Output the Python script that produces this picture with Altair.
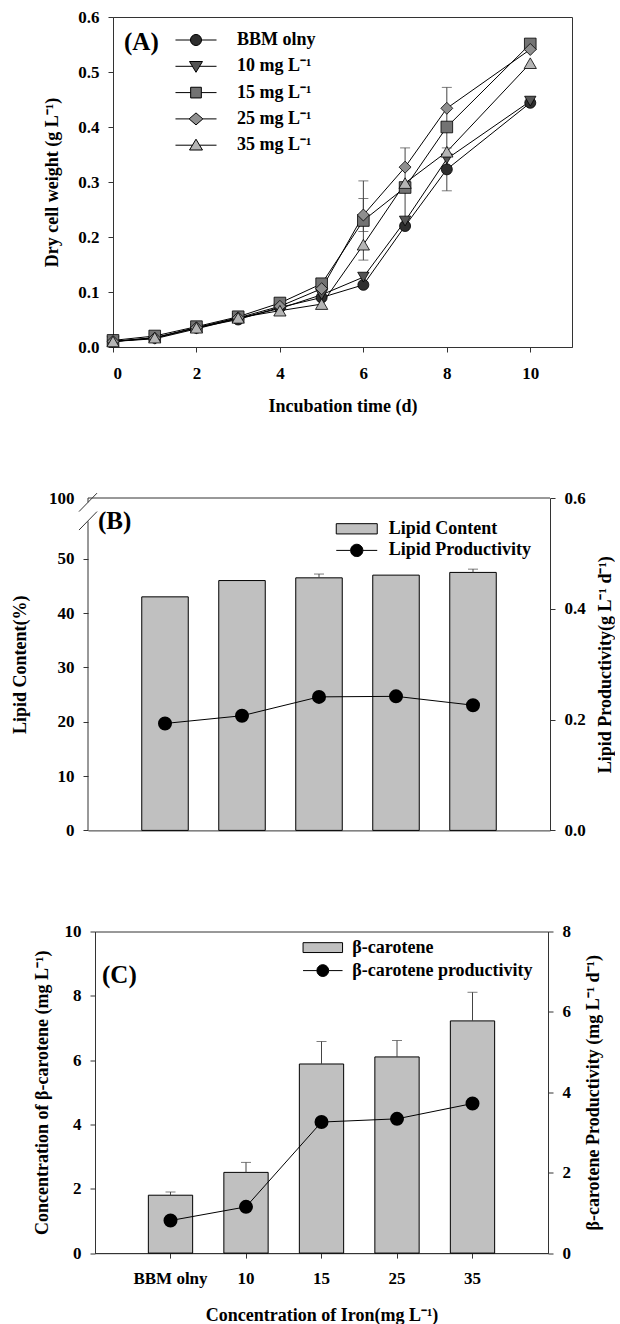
import altair as alt
import pandas as pd

FONT = "Liberation Serif"

# ---------------- Panel A: growth curves ----------------
days = [0, 1, 2, 3, 4, 5, 6, 7, 8, 10]
series_names = ["BBM olny", "10 mg L⁻¹", "15 mg L⁻¹", "25 mg L⁻¹", "35 mg L⁻¹"]
dcw_bbm = [0.010, 0.017, 0.035, 0.050, 0.072, 0.090, 0.113, 0.220, 0.323, 0.444]
dcw_10 = [0.010, 0.015, 0.033, 0.052, 0.070, 0.095, 0.127, 0.229, 0.342, 0.447]
dcw_15 = [0.012, 0.020, 0.037, 0.055, 0.080, 0.115, 0.230, 0.290, 0.400, 0.551]
dcw_25 = [0.010, 0.016, 0.035, 0.053, 0.074, 0.106, 0.240, 0.327, 0.434, 0.541]
dcw_35 = [0.010, 0.017, 0.035, 0.053, 0.066, 0.078, 0.186, 0.298, 0.355, 0.516]
err_bbm = [0, 0, 0, 0, 0, 0, 0, 0, 0.039, 0]
err_10 = [0, 0, 0, 0, 0, 0, 0, 0, 0, 0]
err_15 = [0, 0, 0, 0, 0, 0, 0.072, 0.072, 0.072, 0]
err_25 = [0, 0, 0, 0, 0, 0, 0.030, 0, 0, 0]
err_35 = [0, 0, 0, 0, 0, 0, 0, 0, 0, 0]

# ---------------- Panel B / C: iron levels ----------------
iron_levels = ["BBM olny", "10", "15", "25", "35"]
lipid_content = [43.0, 46.0, 46.5, 47.0, 47.5]
lipid_content_err = [0, 0, 0.7, 0, 0.6]
lipid_productivity = [0.193, 0.207, 0.241, 0.242, 0.226]

bcar_conc = [1.80, 2.51, 5.88, 6.10, 7.22]
bcar_conc_err = [0.10, 0.31, 0.70, 0.51, 0.89]
bcar_prod = [0.81, 1.15, 3.26, 3.34, 3.72]

# ---------------- styles ----------------
marker_shapes = ["circle", "triangle-down", "square", "diamond", "triangle-up"]
# legend glyphs: a line segment with the marker in its middle
legend_glyphs = [
    "M-3.42,0H-0.92M0.92,0H3.42M0.92,0A0.92,0.92 0 1,1 -0.92,0A0.92,0.92 0 1,1 0.92,0Z",
    "M-3.42,0H-0.6M0.6,0H3.42M-1.08,-0.8L1.08,-0.8L0,1.0Z",
    "M-3.42,0H-0.89M0.89,0H3.42M-0.89,-0.89H0.89V0.89H-0.89Z",
    "M-3.42,0H-1.15M1.15,0H3.42M-1.15,0L0,-1.0L1.15,0L0,1.0Z",
    "M-3.42,0H-0.6M0.6,0H3.42M-1.08,0.8L1.08,0.8L0,-1.0Z",
]
marker_fills = ["#2e2e2e", "#555555", "#737373", "#8f8f8f", "#b5b5b5"]
marker_sizes = [121, 150, 115, 180, 150]
BAR_FILL = "#c0c0c0"
FRAME = "#333333"
INDEP = dict(fill="independent", shape="independent", size="independent",
             stroke="independent")

# ---------------- Panel A ----------------
rows = []
all_vals = [dcw_bbm, dcw_10, dcw_15, dcw_25, dcw_35]
all_errs = [err_bbm, err_10, err_15, err_25, err_35]
for i, name in enumerate(series_names):
    for d, v, e in zip(days, all_vals[i], all_errs[i]):
        rows.append(dict(series=name, day=d, dcw=v, err=e, lo=v - e, hi=v + e))
dfA = pd.DataFrame(rows)

WA, HA = 459, 330
yA_scale = alt.Scale(domain=[0, 0.6], nice=False)
xA = alt.X("day:Q", scale=alt.Scale(domain=[0, 11], nice=False, zero=False),
           axis=alt.Axis(values=[0, 2, 4, 6, 8, 10], format="d", labelPadding=13,
                         titlePadding=16),
           title="Incubation time (d)")
yA = alt.Y("dcw:Q", scale=yA_scale,
           axis=alt.Axis(values=[0, 0.1, 0.2, 0.3, 0.4, 0.5, 0.6], format=".1f",
                         titlePadding=16),
           title="Dry cell weight (g L⁻¹)")

legA = alt.Legend(orient="none", legendX=74, legendY=14, title=None,
                  rowPadding=8.3, labelOffset=32, symbolSize=144,
                  symbolStrokeColor="black", symbolStrokeWidth=1)

linesA = alt.Chart(dfA).mark_line(strokeWidth=1, color="black").encode(
    x=xA, y=yA, detail="series:N", order="day:Q")
errA = alt.Chart(dfA).transform_filter("datum.err > 0")
errA_rule = errA.mark_rule(color="#444444", strokeWidth=1).encode(
    x=xA, y=alt.Y("lo:Q", scale=yA_scale), y2="hi:Q")
errA_cap_hi = errA.mark_tick(orient="horizontal", size=10, thickness=1, color="#444444").encode(
    x=xA, y=alt.Y("hi:Q", scale=yA_scale))
errA_cap_lo = errA.mark_tick(orient="horizontal", size=10, thickness=1, color="#444444").encode(
    x=xA, y=alt.Y("lo:Q", scale=yA_scale))
pointsA = alt.Chart(dfA).mark_point(filled=True, opacity=1, stroke="black",
                                    strokeWidth=0.8).encode(
    x=xA, y=yA,
    shape=alt.Shape("series:N", scale=alt.Scale(domain=series_names, range=marker_shapes),
                    legend=None),
    fill=alt.Fill("series:N", scale=alt.Scale(domain=series_names, range=marker_fills),
                  legend=None),
    size=alt.Size("series:N", scale=alt.Scale(domain=series_names, range=marker_sizes),
                  legend=None),
)
# legend-only layer (no rows drawn): line-with-marker glyphs
legendA = alt.Chart(dfA).transform_filter("false").mark_point(
    filled=True, opacity=1, strokeWidth=1).encode(
    x=xA, y=yA,
    shape=alt.Shape("series:N", scale=alt.Scale(domain=series_names, range=legend_glyphs),
                    legend=legA),
    fill=alt.Fill("series:N", scale=alt.Scale(domain=series_names, range=marker_fills),
                  legend=legA),
    stroke=alt.Stroke("series:N", scale=alt.Scale(domain=series_names, range=["black"] * 5),
                      legend=legA),
)
panelA = alt.layer(linesA, errA_rule, errA_cap_hi, errA_cap_lo, pointsA, legendA).resolve_scale(
    shape="independent", fill="independent", size="independent", stroke="independent"
).properties(
    width=WA, height=HA,
    title=alt.TitleParams("(A)", anchor="start", frame="group", orient="top", offset=0,
                          dx=11, dy=59, baseline="middle", fontSize=25, font=FONT,
                          fontWeight="bold", color="black"),
    view=alt.ViewBackground(stroke=FRAME, strokeWidth=1),
)

# ---------------- Panel B ----------------
dfB = pd.DataFrame(dict(cat=iron_levels, lc=lipid_content, lc_err=lipid_content_err,
                        lp=lipid_productivity))
dfB["lc_hi"] = dfB["lc"] + dfB["lc_err"]
dfB["lc_label"] = "Lipid Content"
dfB["lp_label"] = "Lipid Productivity"

WB, HB = 462, 332.4
B_TOP = 61.2  # axis top (break shown as 100)
xB = alt.X("cat:N", sort=iron_levels,
           scale=alt.Scale(domain=iron_levels, paddingInner=0, paddingOuter=0.5),
           axis=alt.Axis(labels=False, ticks=False, title=None))
yB_scale = alt.Scale(domain=[0, B_TOP], nice=False)
yB = alt.Y("lc:Q", scale=yB_scale,
           axis=alt.Axis(values=[0, 10, 20, 30, 40, 50, B_TOP], format="d", domain=False,
                         labelExpr="datum.value > 55 ? '100' : datum.label",
                         tickOpacity={"condition": {"test": "datum.value > 55", "value": 0},
                                      "value": 1},
                         titlePadding=19),
           title="Lipid Content(%)")

legB_bar = alt.Legend(orient="none", legendX=257.75, legendY=19.8, title=None,
                      symbolType="M-2,-0.5H2V0.5H-2Z", symbolSize=420,
                      symbolStrokeColor="black", symbolStrokeWidth=1, labelOffset=21)
legB_pt = alt.Legend(orient="none", legendX=257.75, legendY=41.4, title=None,
                     symbolType="M-2,0H-0.6M0.6,0H2M0.6,0A0.6,0.6 0 1,1 -0.6,0A0.6,0.6 0 1,1 0.6,0Z",
                     symbolSize=420, symbolStrokeColor="black", symbolStrokeWidth=1,
                     labelOffset=21)

barsB = alt.Chart(dfB).mark_bar(size=46.5, stroke="black", strokeWidth=1).encode(
    x=xB, y=yB,
    fill=alt.Fill("lc_label:N", scale=alt.Scale(domain=["Lipid Content"], range=[BAR_FILL]),
                  legend=legB_bar))
errB = alt.Chart(dfB).transform_filter("datum.lc_err > 0")
errB_rule = errB.mark_rule(color="#444444").encode(
    x=xB, y=alt.Y("lc:Q", scale=yB_scale), y2="lc_hi:Q")
errB_cap = errB.mark_tick(orient="horizontal", size=10, thickness=1, color="#444444").encode(
    x=xB, y=alt.Y("lc_hi:Q", scale=yB_scale))

one = pd.DataFrame({"k": [0]})
frame_top = alt.Chart(one).mark_rule(color=FRAME).encode(
    x=alt.value(0), x2=alt.value(WB), y=alt.value(0))
axis_low = alt.Chart(one).mark_rule(color=FRAME).encode(
    x=alt.value(0), y=alt.datum(0), y2=alt.datum(56.9))
axis_high = alt.Chart(one).mark_rule(color=FRAME).encode(
    x=alt.value(0), y=alt.datum(60.4), y2=alt.datum(B_TOP))
slash1 = alt.Chart(one).mark_rule(color=FRAME).encode(
    x=alt.value(-9), x2=alt.value(9), y=alt.datum(58.7), y2=alt.datum(62.1))
slash2 = alt.Chart(one).mark_rule(color=FRAME).encode(
    x=alt.value(-9), x2=alt.value(9), y=alt.datum(55.3), y2=alt.datum(58.7))

leftB = alt.layer(barsB, errB_rule, errB_cap, frame_top, axis_low, axis_high, slash1, slash2)

yB2_scale = alt.Scale(domain=[0, 0.6], nice=False)
yB2 = alt.Y("lp:Q", scale=yB2_scale,
            axis=alt.Axis(orient="right", values=[0, 0.2, 0.4, 0.6], format=".1f",
                          titleAngle=270, titleBaseline="top", titlePadding=11),
            title="Lipid  Productivity(g L⁻¹ d⁻¹)")
lineB = alt.Chart(dfB).mark_line(color="black", strokeWidth=1).encode(x=xB, y=yB2)
ptsB = alt.Chart(dfB).mark_point(filled=True, size=144, opacity=1, stroke="black").encode(
    x=xB, y=yB2,
    fill=alt.Fill("lp_label:N", scale=alt.Scale(domain=["Lipid Productivity"], range=["black"]),
                  legend=legB_pt))
rightB = alt.layer(lineB, ptsB)

panelB = alt.layer(leftB, rightB).resolve_scale(y="independent", fill="independent").properties(
    width=WB, height=HB,
    title=alt.TitleParams("(B)", anchor="start", frame="group", orient="top", offset=0,
                          dx=10, dy=57.4, baseline="middle", fontSize=25, font=FONT,
                          fontWeight="bold", color="black"),
    view=alt.ViewBackground(stroke="transparent"),
)

# ---------------- Panel C ----------------
dfC = pd.DataFrame(dict(cat=iron_levels, bc=bcar_conc, bc_err=bcar_conc_err, bp=bcar_prod))
dfC["bc_hi"] = dfC["bc"] + dfC["bc_err"]
dfC["bc_label"] = "β-carotene"
dfC["bp_label"] = "β-carotene productivity"

WC, HC = 453, 321.6
xC = alt.X("cat:N", sort=iron_levels,
           scale=alt.Scale(domain=iron_levels, paddingInner=0, paddingOuter=0.5),
           axis=alt.Axis(labelAngle=0, labelPadding=12.5, titlePadding=20),
           title="Concentration of Iron(mg L⁻¹)")
yC_scale = alt.Scale(domain=[0, 10], nice=False)
yC = alt.Y("bc:Q", scale=yC_scale,
           axis=alt.Axis(values=[0, 2, 4, 6, 8, 10], format="d", titlePadding=12.5),
           title="Concentration of β-carotene (mg L⁻¹)")

legC_bar = alt.Legend(orient="none", legendX=217.3, legendY=5.6, title=None,
                      symbolType="M-2,-0.5H2V0.5H-2Z", symbolSize=390,
                      symbolStrokeColor="black", symbolStrokeWidth=1, labelOffset=19)
legC_pt = alt.Legend(orient="none", legendX=217.3, legendY=28.6, title=None,
                     symbolType="M-2,0H-0.6M0.6,0H2M0.6,0A0.6,0.6 0 1,1 -0.6,0A0.6,0.6 0 1,1 0.6,0Z",
                     symbolSize=390, symbolStrokeColor="black", symbolStrokeWidth=1,
                     labelOffset=19)

barsC = alt.Chart(dfC).mark_bar(size=44.3, stroke="black", strokeWidth=1).encode(
    x=xC, y=yC,
    fill=alt.Fill("bc_label:N", scale=alt.Scale(domain=["β-carotene"], range=[BAR_FILL]),
                  legend=legC_bar))
errC_rule = alt.Chart(dfC).mark_rule(color="#444444").encode(
    x=xC, y=alt.Y("bc:Q", scale=yC_scale), y2="bc_hi:Q")
errC_cap = alt.Chart(dfC).mark_tick(orient="horizontal", size=10, thickness=1,
                                    color="#444444").encode(
    x=xC, y=alt.Y("bc_hi:Q", scale=yC_scale))
leftC = alt.layer(barsC, errC_rule, errC_cap)

yC2_scale = alt.Scale(domain=[0, 8], nice=False)
yC2 = alt.Y("bp:Q", scale=yC2_scale,
            axis=alt.Axis(orient="right", values=[0, 2, 4, 6, 8], format="d",
                          titleAngle=270, titleBaseline="top", titlePadding=14),
            title="β-carotene  Productivity (mg L⁻¹ d⁻¹)")
lineC = alt.Chart(dfC).mark_line(color="black", strokeWidth=1).encode(x=xC, y=yC2)
ptsC = alt.Chart(dfC).mark_point(filled=True, size=144, opacity=1, stroke="black").encode(
    x=xC, y=yC2,
    fill=alt.Fill("bp_label:N",
                  scale=alt.Scale(domain=["β-carotene productivity"], range=["black"]),
                  legend=legC_pt))
rightC = alt.layer(lineC, ptsC)

panelC = alt.layer(leftC, rightC).resolve_scale(y="independent", fill="independent").properties(
    width=WC, height=HC,
    title=alt.TitleParams("(C)", anchor="start", frame="group", orient="top", offset=0,
                          dx=7, dy=77, baseline="middle", fontSize=25, font=FONT,
                          fontWeight="bold", color="black"),
    view=alt.ViewBackground(stroke=FRAME, strokeWidth=1),
)

# ---------------- layout ----------------
spacer_df = pd.DataFrame({"s": [1]})


def spacer(w):
    return alt.Chart(spacer_df).mark_point(opacity=0, size=1).encode(
        x=alt.X("s:Q", scale=alt.Scale(domain=[0, 2]), axis=None),
        y=alt.Y("s:Q", scale=alt.Scale(domain=[0, 2]), axis=None),
    ).properties(width=w, height=2, view=alt.ViewBackground(stroke="transparent"))


rowA = alt.hconcat(spacer(41), panelA, spacing=0).resolve_scale(**INDEP)
rowB = alt.hconcat(spacer(9), panelB, spacing=0).resolve_scale(**INDEP)
rowC = alt.hconcat(spacer(31), panelC, spacing=0).resolve_scale(**INDEP)

chart = alt.vconcat(
    alt.vconcat(rowA, rowB, spacing=72).resolve_scale(**INDEP), rowC, spacing=82.5
).resolve_scale(**INDEP).properties(
    padding={"left": 0, "top": 7, "right": 0, "bottom": 0}
).configure_axis(
    labelFont=FONT, labelFontSize=17, labelFontWeight="bold", labelColor="black",
    titleFont=FONT, titleFontSize=18, titleFontWeight="bold", titleColor="black",
    domainColor=FRAME, tickColor=FRAME, tickSize=5, labelPadding=9, grid=False,
).configure_legend(
    labelFont=FONT, labelFontSize=18, labelFontWeight="bold", labelColor="black",
    labelLimit=400, padding=0,
).configure_view(stroke=FRAME)

chart.save("out.html", embed_options={"renderer": "svg", "actions": False})
